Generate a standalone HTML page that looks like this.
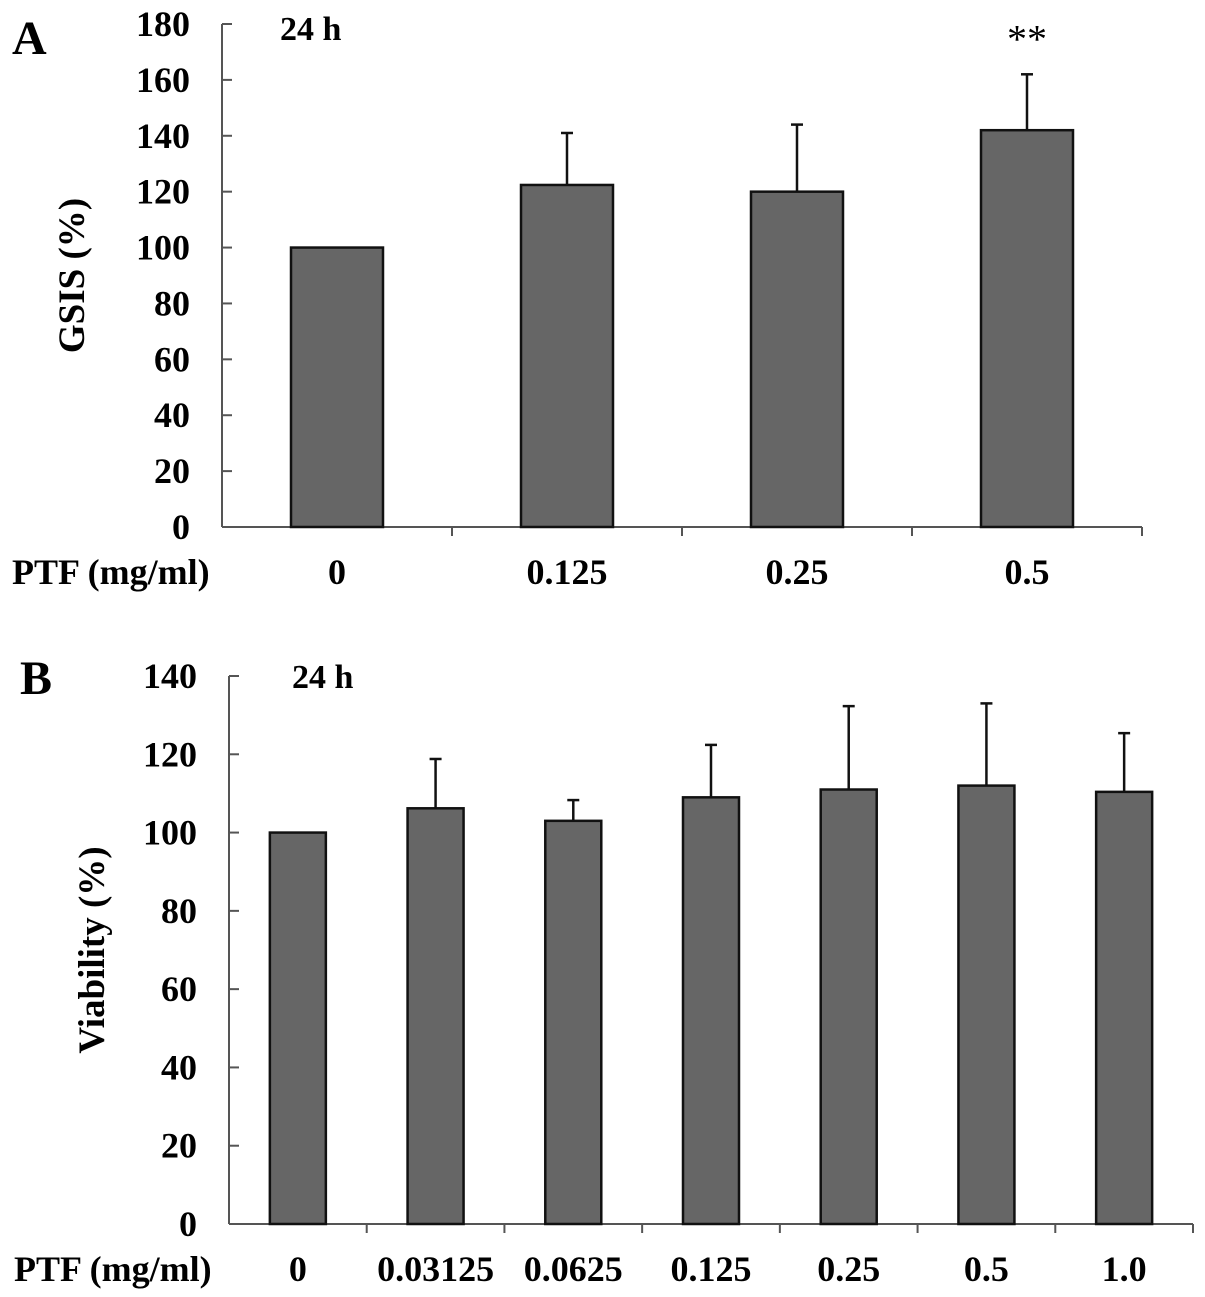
<!DOCTYPE html>
<html><head><meta charset="utf-8"><style>
body{margin:0;background:#fff}
svg{display:block;font-family:"Liberation Serif",serif;font-weight:bold}
</style></head><body>
<svg id="c" width="1205" height="1297" viewBox="0 0 1205 1297" xmlns="http://www.w3.org/2000/svg"></svg>
<script>
const catsA = ["0","0.125","0.25","0.5"];
const valsA = [100,122.4,120,142];
const errA = [100,141,144,162];
const sigA = ["","","","**"];
const ticksA = [0,20,40,60,80,100,120,140,160,180];
const catsB = ["0","0.03125","0.0625","0.125","0.25","0.5","1.0"];
const valsB = [100,106.2,103,109,111,112,110.4];
const errB = [100,118.8,108.3,122.4,132.3,133,125.4];
const ticksB = [0,20,40,60,80,100,120,140];

const svg=document.getElementById('c');
const NS="http://www.w3.org/2000/svg";
function mk(tag,attrs,name,text){const e=document.createElementNS(NS,tag);for(const k in attrs)e.setAttribute(k,attrs[k]);


if(text!==undefined)e.textContent=text;svg.appendChild(e);return e;}

function panel(o){
  const y=v=>o.y0-(v-o.vmin)*(o.y0-o.y1)/(o.vmax-o.vmin);
  const bw=(o.x1-o.x0)/o.cats.length;
  const xc=i=>o.x0+bw*(i+0.5);
  mk('line',{x1:o.x0,y1:o.y1,x2:o.x0,y2:o.y0,stroke:'#555','stroke-width':2},o.p+'-y-axis');
  mk('line',{x1:o.x0,y1:o.y0,x2:o.x1,y2:o.y0,stroke:'#555','stroke-width':2},o.p+'-x-axis');
  o.ticks.forEach(t=>{
    mk('line',{x1:o.x0,y1:y(t),x2:o.x0+10,y2:y(t),stroke:'#555','stroke-width':2},o.p+'-y-tick');
    mk('text',{x:o.x0-32,y:y(t)+12,'text-anchor':'end','font-size':36},o.p+'-y-tick-label',t);
  });
  for(let i=1;i<=o.cats.length;i++)
    mk('line',{x1:o.x0+bw*i,y1:o.y0,x2:o.x0+bw*i,y2:o.y0+9,stroke:'#555','stroke-width':2},o.p+'-x-tick');
  o.cats.forEach((c,i)=>{
    const cx=xc(i);
    if(o.err[i]>o.vals[i]){
      mk('line',{x1:cx,y1:y(o.err[i]),x2:cx,y2:y(o.vals[i]),stroke:'#111','stroke-width':2.5},o.p+'-error-bar');
      mk('line',{x1:cx-6,y1:y(o.err[i]),x2:cx+6,y2:y(o.err[i]),stroke:'#111','stroke-width':2.5},o.p+'-error-cap');
    }
    mk('rect',{x:cx-o.barW/2,y:y(o.vals[i]),width:o.barW,height:y(o.vmin)-y(o.vals[i]),fill:'#666',stroke:'#111','stroke-width':2.5},o.p+'-bar-'+i);
    mk('text',{x:cx,y:o.labY,'text-anchor':'middle','font-size':36},o.p+'-x-tick-label',c);
    if(o.sig&&o.sig[i])mk('text',{x:cx,y:y(o.err[i])-22,'text-anchor':'middle','font-size':40,'font-weight':'normal'},o.p+'-significance',o.sig[i]);
  });
  mk('text',{x:o.labX,y:o.labY,'text-anchor':'start','font-size':36},o.p+'-x-axis-title','PTF (mg/ml)');
  mk('text',{x:o.hX,y:o.hY,'font-size':34},o.p+'-time-label','24 h');
  mk('text',{x:o.lX,y:o.lY,'font-size':48},o.p+'-panel-letter',o.letter);
  mk('text',{x:0,y:0,'text-anchor':'middle','font-size':37,transform:`translate(${o.tX},${(o.y0+o.y1)/2}) rotate(-90)`},o.p+'-y-axis-title',o.title);
}
panel({p:'a',cats:catsA,vals:valsA,err:errA,sig:sigA,ticks:ticksA,vmin:0,vmax:180,x0:222,x1:1142,y0:527,y1:24,barW:92,labY:584,labX:12,hX:280,hY:40,lX:12,lY:54,letter:'A',tX:84,title:'GSIS (%)'});
panel({p:'b',cats:catsB,vals:valsB,err:errB,ticks:ticksB,vmin:0,vmax:140,x0:229,x1:1193,y0:1224,y1:676,barW:56,labY:1281,labX:14,hX:292,hY:688,lX:20,lY:694,letter:'B',tX:104,title:'Viability (%)'});
</script>
</body></html>
